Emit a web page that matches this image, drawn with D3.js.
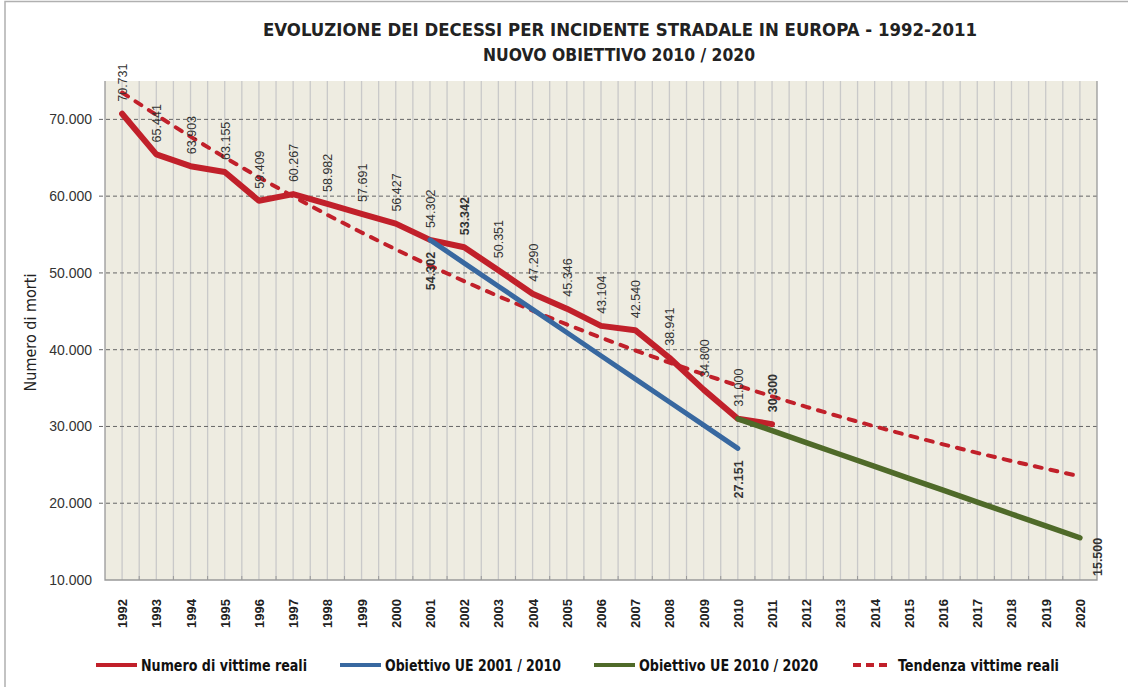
<!DOCTYPE html>
<html>
<head>
<meta charset="utf-8">
<script src="https://cdn.jsdelivr.net/npm/d3@7"></script>
<style>
  body { margin: 0; background: #fff; }
  svg { display: block; font-family: "Liberation Sans", Arial, sans-serif; }
</style>
</head>
<body>
<div id="chart"></div>
<script>
const years = d3.range(1992, 2021).map(String)

const realYears = ['1992', '1993', '1994', '1995', '1996', '1997', '1998', '1999', '2000', '2001',
  '2002', '2003', '2004', '2005', '2006', '2007', '2008', '2009', '2010', '2011']
const realValues = [70731, 65441, 63903, 63155, 59409, 60267, 58982, 57691, 56427, 54302,
  53342, 50351, 47290, 45346, 43104, 42540, 38941, 34800, 31000, 30300]

const target2010Years = ['2001', '2002', '2003', '2004', '2005', '2006', '2007', '2008', '2009', '2010']
const target2010Values = [54302, 51285, 48268, 45251, 42234, 39217, 36199, 33182, 30165, 27151]

const target2020Years = ['2010', '2011', '2012', '2013', '2014', '2015', '2016', '2017', '2018', '2019', '2020']
const target2020Values = [31000, 29450, 27900, 26350, 24800, 23250, 21700, 20150, 18600, 17050, 15500]

const trendYears = years
const trendValues = [73500, 70570, 67750, 65050, 62450, 59960, 57570, 55270, 53070, 50950,
  48920, 46970, 45090, 43290, 41570, 39910, 38320, 36790, 35320, 33910,
  32560, 31260, 30010, 28820, 27670, 26560, 25500, 24490, 23510]

const yTicks = [10000, 20000, 30000, 40000, 50000, 60000, 70000]
const boldLabels = ['2002', '2011']

const seriesNames = ['Numero di vittime reali', 'Obiettivo UE 2001 / 2010', 'Obiettivo UE 2010 / 2020', 'Tendenza vittime reali']
const colors = ['#C1202A', '#3868A0', '#4F6A29', '#C1202A']

const width = 1128
const height = 687
const margin = { top: 81, right: 31, bottom: 107, left: 105 }

const fmt = d3.formatLocale({ decimal: ',', thousands: '.', grouping: [3], currency: ['€', ''] }).format(',')

const svg = d3.select('#chart')
  .append('svg')
  .attr('width', width)
  .attr('height', height)

// outer frame
svg.append('path')
  .attr('d', `M5,${height} V1.5 H${width}`)
  .attr('fill', 'none')
  .attr('stroke', '#b0b0b0')
  .attr('stroke-width', 1.5)

const x = d3.scaleBand()
  .domain(years)
  .range([margin.left, width - margin.right])

const y = d3.scaleLinear()
  .domain([10000, 75000])
  .range([height - margin.bottom, margin.top])

const cx = d => x(d) + x.bandwidth() / 2

// plot background
svg.append('rect')
  .attr('x', margin.left)
  .attr('y', margin.top)
  .attr('width', width - margin.left - margin.right)
  .attr('height', height - margin.top - margin.bottom)
  .attr('fill', '#EEECE1')

// vertical grid lines at band edges and centres
const vLines = []
years.forEach(d => { vLines.push(x(d)); vLines.push(cx(d)) })
svg.append('g')
  .selectAll('line')
  .data(vLines.slice(1))
  .enter()
  .append('line')
  .attr('x1', d => d)
  .attr('x2', d => d)
  .attr('y1', margin.top)
  .attr('y2', y(10000))
  .attr('stroke', '#c9c9c9')
  .attr('stroke-width', 1.3)

// horizontal dashed grid
svg.append('g')
  .selectAll('line')
  .data(yTicks.slice(1))
  .enter()
  .append('line')
  .attr('x1', margin.left - 6)
  .attr('x2', width - margin.right)
  .attr('y1', d => y(d))
  .attr('y2', d => y(d))
  .attr('stroke', '#666')
  .attr('stroke-width', 1)
  .attr('stroke-dasharray', '4,3')

// plot border (left, bottom, right)
svg.append('path')
  .attr('d', `M${margin.left},${margin.top} V${y(10000)} H${width - margin.right} V${margin.top}`)
  .attr('fill', 'none')
  .attr('stroke', '#999')
  .attr('stroke-width', 1.3)

// small ticks on x axis
svg.append('g')
  .selectAll('line')
  .data(years.slice(1))
  .enter()
  .append('line')
  .attr('x1', d => x(d))
  .attr('x2', d => x(d))
  .attr('y1', y(10000))
  .attr('y2', y(10000) - 4)
  .attr('stroke', '#999')

// y tick labels
svg.append('g')
  .selectAll('text')
  .data(yTicks)
  .enter()
  .append('text')
  .attr('x', margin.left - 13)
  .attr('y', d => y(d) + 5)
  .attr('text-anchor', 'end')
  .attr('font-size', 14)
  .attr('fill', '#333')
  .text(d => fmt(d))

// x tick labels
svg.append('g')
  .selectAll('text')
  .data(years)
  .enter()
  .append('text')
  .attr('transform', d => `translate(${cx(d) + 5},${y(10000) + 48}) rotate(-90)`)
  .attr('font-size', 13)
  .attr('font-weight', 'bold')
  .attr('fill', '#222')
  .text(d => d)

// y axis title
svg.append('text')
  .attr('transform', `translate(36,${(margin.top + y(10000)) / 2 + 2}) rotate(-90)`)
  .attr('text-anchor', 'middle')
  .attr('font-size', 16)
  .attr('font-family', '"Liberation Sans Narrow", "DejaVu Sans Condensed", sans-serif')
  .attr('fill', '#222')
  .text('Numero di morti')

// titles
svg.append('text')
  .attr('x', 620)
  .attr('y', 36)
  .attr('text-anchor', 'middle')
  .attr('font-size', 18)
  .attr('font-weight', 'bold')
  .attr('font-family', '"Liberation Sans Narrow", "DejaVu Sans Condensed", sans-serif')
  .attr('fill', '#222')
  .attr('textLength', 714)
  .attr('lengthAdjust', 'spacingAndGlyphs')
  .text('EVOLUZIONE DEI DECESSI PER INCIDENTE STRADALE IN EUROPA - 1992-2011')

svg.append('text')
  .attr('x', 619)
  .attr('y', 61)
  .attr('text-anchor', 'middle')
  .attr('font-size', 17)
  .attr('font-weight', 'bold')
  .attr('font-family', '"Liberation Sans Narrow", "DejaVu Sans Condensed", sans-serif')
  .attr('fill', '#222')
  .attr('textLength', 272)
  .attr('lengthAdjust', 'spacingAndGlyphs')
  .text('NUOVO OBIETTIVO 2010 / 2020')

const line = d3.line()
  .x(d => cx(d[0]))
  .y(d => y(d[1]))

const zip = (a, b) => a.map((d, i) => [d, b[i]])

// trend (dashed)
svg.append('path')
  .datum(zip(trendYears, trendValues))
  .attr('d', line)
  .attr('fill', 'none')
  .attr('stroke', colors[3])
  .attr('stroke-width', 4)
  .attr('stroke-linecap', 'round')
  .attr('stroke-dasharray', '7,9')

// real victims
svg.append('path')
  .datum(zip(realYears, realValues))
  .attr('d', line)
  .attr('fill', 'none')
  .attr('stroke', colors[0])
  .attr('stroke-width', 6)
  .attr('stroke-linecap', 'round')
  .attr('stroke-linejoin', 'round')

// targets
svg.append('path')
  .datum(zip(target2010Years, target2010Values))
  .attr('d', line)
  .attr('fill', 'none')
  .attr('stroke', colors[1])
  .attr('stroke-width', 5)
  .attr('stroke-linecap', 'round')

svg.append('path')
  .datum(zip(target2020Years, target2020Values))
  .attr('d', line)
  .attr('fill', 'none')
  .attr('stroke', colors[2])
  .attr('stroke-width', 5.5)
  .attr('stroke-linecap', 'round')

// value labels on real victims line
svg.append('g')
  .selectAll('text')
  .data(zip(realYears, realValues))
  .enter()
  .append('text')
  .attr('transform', d => `translate(${cx(d[0]) + 5},${y(d[1]) - 12}) rotate(-90)`)
  .attr('font-size', 12.5)
  .attr('font-weight', d => boldLabels.includes(d[0]) ? 'bold' : 'normal')
  .attr('fill', '#333')
  .text(d => fmt(d[1]))

// labels for target start / end points
const endLabels = [
  [target2010Years[0], target2010Values[0], 0],
  [target2010Years[target2010Years.length - 1], target2010Values[target2010Values.length - 1], 0],
  [target2020Years[target2020Years.length - 1], target2020Values[target2020Values.length - 1], 17]
]
svg.append('g')
  .selectAll('text')
  .data(endLabels)
  .enter()
  .append('text')
  .attr('transform', d => `translate(${cx(d[0]) + 5 + d[2]},${y(d[1]) + (d[2] ? 0 : 12)}) rotate(-90)`)
  .attr('text-anchor', 'end')
  .attr('font-size', 12.5)
  .attr('font-weight', 'bold')
  .attr('fill', '#333')
  .text(d => fmt(d[1]))

// legend
const legendX = [96, 340, 594, 853]
const legendW = [166, 176, 179, 161]
const legend = svg.append('g')
  .selectAll('g')
  .data(seriesNames)
  .enter()
  .append('g')
  .attr('transform', (d, i) => `translate(${legendX[i]},665)`)

legend.append('line')
  .attr('x1', 0)
  .attr('x2', (d, i) => i === 3 ? 38 : 41)
  .attr('stroke', (d, i) => colors[i])
  .attr('stroke-width', 4)
  .attr('stroke-dasharray', (d, i) => i === 3 ? '8,5' : null)

legend.append('text')
  .attr('x', 45)
  .attr('y', 6)
  .attr('font-size', 16)
  .attr('font-weight', 'bold')
  .attr('font-family', '"Liberation Sans Narrow", "DejaVu Sans Condensed", sans-serif')
  .attr('fill', '#111')
  .attr('textLength', (d, i) => legendW[i])
  .attr('lengthAdjust', 'spacingAndGlyphs')
  .text(d => d)
</script>
</body>
</html>
